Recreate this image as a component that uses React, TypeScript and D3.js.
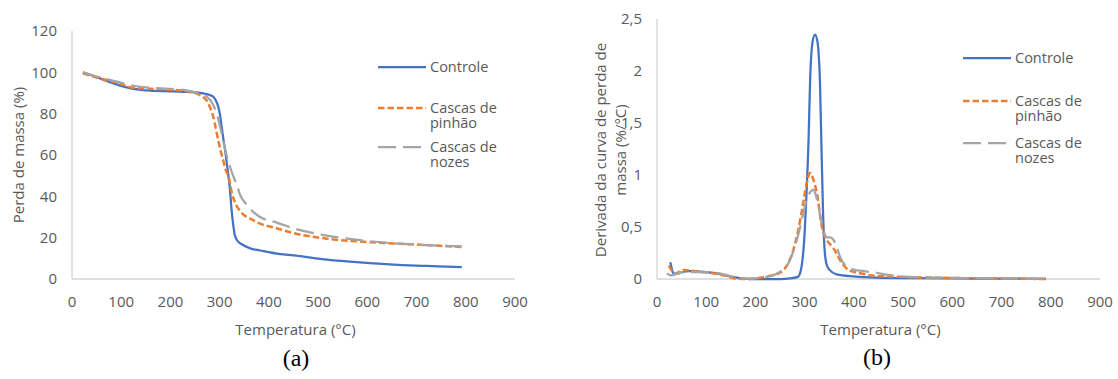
import React from 'react';
import { scaleLinear, line, curveMonotoneX } from 'd3';

const W = 1118;
const H = 379;
const FONT = "'Open Sans', sans-serif";
const TEXT = '#595959';
const AXIS = '#d4d4d4';

// temperature ticks (both panels)
const xTicks = [0, 100, 200, 300, 400, 500, 600, 700, 800, 900];
const yTicksA = [0, 20, 40, 60, 80, 100, 120];
const yTicksB = [0, 0.5, 1, 1.5, 2, 2.5];

const seriesNames = ['Controle', 'Cascas de pinhão', 'Cascas de nozes'];

// (a) perda de massa (%) vs temperatura
const controleTga: [number, number][] = [
  [22, 100], [40, 98.6], [57, 97.1], [80, 95], [111, 92.7], [140, 91.5], [159, 91.1], [200, 90.8],
  [226, 90.6], [250, 90.3], [267, 89.8], [280, 89], [287, 88.2], [293, 86], [297, 83.4], [301, 79],
  [304, 73.7], [308, 67], [311, 62.4], [315, 55], [318, 49.5], [321, 43], [324, 34], [328, 25.3],
  [331, 21], [335, 18.9], [345, 16.8], [362, 14.8], [382, 13.8], [423, 12], [450, 11.4], [518, 9.4],
  [585, 8], [653, 6.9], [721, 6.3], [792, 5.7],
];
const pinhaoTga: [number, number][] = [
  [22, 99.5], [50, 97.5], [91, 95], [125, 92.5], [160, 92], [192, 91.7], [240, 90.6], [260, 89],
  [270, 87.3], [277, 85], [282, 82], [287, 78.5], [292, 73], [297, 67.2], [302, 62], [307, 57.6],
  [312, 53], [318, 49.5], [325, 41.5], [333, 36], [341, 33], [355, 30], [368, 28.5], [382, 26.8],
  [409, 25], [450, 22.2], [518, 19.5], [585, 18.1], [653, 17.2], [721, 16.4], [792, 15.5],
];
const nozesTga: [number, number][] = [
  [22, 100], [50, 98], [91, 95.5], [125, 93.5], [180, 92.2], [226, 91.5], [255, 90], [274, 88.2],
  [285, 85], [294, 80], [300, 74.5], [307, 67.2], [314, 60], [321, 54.3], [328, 49.5], [335, 45.5],
  [341, 41], [355, 36], [368, 32.5], [382, 30], [416, 27.3], [450, 24.5], [518, 21], [585, 18.8],
  [653, 17.3], [721, 16.4], [792, 15.8],
];

// (b) derivada da curva de perda de massa (%/°C)
const controleDtg: [number, number][] = [
  [27, 0.16], [30, 0.1], [33, 0.055], [40, 0.05], [50, 0.065], [67, 0.075], [90, 0.07], [121, 0.055],
  [140, 0.035], [162, 0.013], [189, 0], [250, 0], [270, 0.005], [286, 0.02], [292, 0.08], [296, 0.2],
  [300, 0.45], [304, 0.85], [308, 1.35], [311, 1.9], [316, 2.28], [321, 2.35], [326, 2.28], [331, 1.9],
  [334, 1.3], [337, 0.7], [340, 0.32], [344, 0.15], [350, 0.09], [365, 0.045], [400, 0.025],
  [446, 0.013], [520, 0.008], [600, 0.005], [700, 0.003], [790, 0.002],
];
const pinhaoDtg: [number, number][] = [
  [24, 0.13], [30, 0.08], [37, 0.05], [45, 0.07], [54, 0.087], [70, 0.08], [87, 0.07], [121, 0.05],
  [140, 0.03], [155, 0.007], [175, 0], [200, 0.005], [216, 0.018], [237, 0.04], [250, 0.06],
  [264, 0.13], [277, 0.28], [287, 0.47], [297, 0.73], [304, 0.92], [311, 1.02], [318, 0.95],
  [325, 0.82], [335, 0.5], [345, 0.375], [358, 0.3], [372, 0.18], [389, 0.087], [413, 0.055],
  [446, 0.03], [500, 0.02], [600, 0.01], [700, 0.004], [790, 0],
];
const nozesDtg: [number, number][] = [
  [20, 0.055], [25, 0.04], [30, 0.035], [40, 0.05], [54, 0.065], [87, 0.065], [121, 0.06], [140, 0.04],
  [155, 0.02], [182, 0.003], [209, 0.01], [223, 0.02], [236, 0.035], [250, 0.07], [270, 0.18],
  [280, 0.31], [291, 0.5], [304, 0.76], [312, 0.84], [318, 0.86], [323, 0.8], [328, 0.7], [338, 0.47],
  [345, 0.4], [352, 0.4], [358, 0.38], [365, 0.31], [372, 0.21], [385, 0.12], [392, 0.1], [413, 0.08],
  [446, 0.06], [470, 0.04], [507, 0.02], [560, 0.014], [650, 0.008], [790, 0.004],
];

const styles = [
  { color: '#4472C4', width: 2.25, dash: undefined as string | undefined },
  { color: '#ED7D31', width: 2.5, dash: '6.5,3' },
  { color: '#A5A5A5', width: 2.25, dash: '18,7' },
];

const fmt = (v: number) => String(v).replace('.', ',');

type PanelProps = {
  x0: number; x1: number; yTop: number; yMax: number; yTicks: number[];
  data: [number, number][][];
  titleY: string[]; titleX: number; titleYBase: number[];
  legendX: number; legendY: number[]; label: string; labelX: number; labelY: number;
};

function Panel(p: PanelProps) {
  const x = scaleLinear().domain([0, 900]).range([p.x0, p.x1]);
  const y = scaleLinear().domain([0, p.yMax]).range([279, p.yTop]);
  const gen = line<[number, number]>().x(d => x(d[0])).y(d => y(d[1])).curve(curveMonotoneX);
  const midX = (p.x0 + p.x1) / 2;
  return (
    <g fontFamily={FONT} fill={TEXT}>
      <line x1={p.x0} x2={p.x0} y1={y(p.yMax)} y2={y(0)} stroke={AXIS} strokeWidth={1.3} />
      <line x1={p.x0} x2={p.x1} y1={y(0)} y2={y(0)} stroke={AXIS} strokeWidth={1.3} />
      {p.yTicks.map(t => (
        <text key={t} x={p.x0 - 15} y={y(t)} dy="0.35em" textAnchor="end" fontSize={15}>{fmt(t)}</text>
      ))}
      {xTicks.map(t => (
        <text key={t} x={x(t)} y={307} textAnchor="middle" fontSize={15}>{t}</text>
      ))}
      {p.data.map((d, i) => (
        <path key={i} d={gen(d) || ''} fill="none" stroke={styles[i].color} strokeWidth={styles[i].width}
          strokeDasharray={styles[i].dash} strokeLinejoin="round" />
      ))}
      <text x={midX + 2} y={335} textAnchor="middle" fontSize={15}>Temperatura (°C)</text>
      {p.titleY.map((t, i) => (
        <text key={t} transform={`translate(${p.titleYBase[i]},${p.titleX}) rotate(-90)`} textAnchor="middle" fontSize={15}>{t}</text>
      ))}
      {seriesNames.map((n, i) => {
        const ly = p.legendY[i];
        const parts = n === 'Controle' ? [n] : [n.split(' ').slice(0, 2).join(' '), n.split(' ')[2]];
        return (
          <g key={n}>
            <line x1={p.legendX} x2={p.legendX + 48} y1={ly} y2={ly} stroke={styles[i].color}
              strokeWidth={styles[i].width} strokeDasharray={styles[i].dash} />
            <text x={p.legendX + 52} y={ly + 5} fontSize={14.5}>
              {parts.map((s, j) => (
                <tspan key={j} x={p.legendX + 52} dy={j === 0 ? 0 : 15}>{s}</tspan>
              ))}
            </text>
          </g>
        );
      })}
      <text x={p.labelX} y={p.labelY} textAnchor="middle" fontSize={24}
        fontFamily="'Liberation Serif', serif" fill="#000">{p.label}</text>
    </g>
  );
}

export default function App() {
  return (
    <svg width={W} height={H} style={{ position: 'absolute', left: 0, top: 0, background: '#fff' }}>
      <Panel x0={72} x1={515} yTop={31} yMax={120} yTicks={yTicksA}
        data={[controleTga, pinhaoTga, nozesTga]}
        titleY={['Perda de massa (%)']} titleX={155} titleYBase={[24]}
        legendX={378} legendY={[67, 108, 147]} label="(a)" labelX={296} labelY={366} />
      <Panel x0={657} x1={1100} yTop={19} yMax={2.5} yTicks={yTicksB}
        data={[controleDtg, pinhaoDtg, nozesDtg]}
        titleY={['Derivada da curva de perda de', 'massa (%/°C)']} titleX={150} titleYBase={[606, 626]}
        legendX={963} legendY={[58, 101, 143]} label="(b)" labelX={877} labelY={365} />
    </svg>
  );
}
